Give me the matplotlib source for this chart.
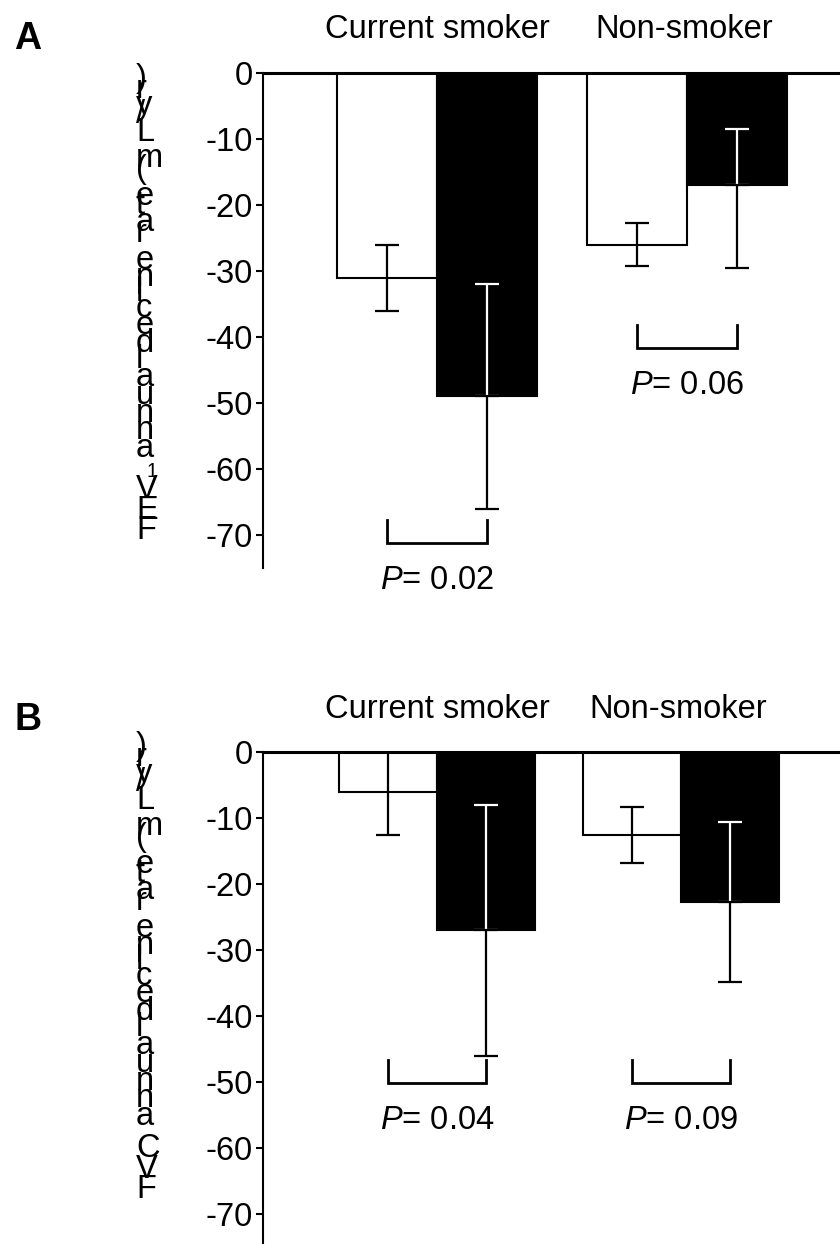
import matplotlib
matplotlib.use("Agg")
import matplotlib.pyplot as plt
import numpy as np
from matplotlib import font_manager
from matplotlib.ft2font import FT2Font

plt.rcParams['font.family'] = ['Liberation Sans', 'DejaVu Sans']
plt.rcParams['axes.unicode_minus'] = False
plt.rcParams['mathtext.fontset'] = 'custom'
plt.rcParams['mathtext.it'] = 'Liberation Sans:italic'
plt.rcParams['mathtext.rm'] = 'Liberation Sans'

groups = ['Current smoker', 'Non-smoker']

# Panel A: FEV1 annual decline (mL/yr), white = first bar, black = second bar
fev1_white = [-31, -26]
fev1_white_err = [5, 3.3]
fev1_black = [-49, -17]
fev1_black_err_low = [17, 12.5]
fev1_black_err_up = [17, 8.5]
fev1_p = ['0.02', '0.06']
fev1_bracket = [-71.2, -41.7]

# Panel B: FVC annual decline (mL/yr)
fvc_white = [-6, -12.6]
fvc_white_err = [6.5, 4.2]
fvc_black = [-27, -22.7]
fvc_black_err_low = [19, 12.1]
fvc_black_err_up = [19, 12.1]
fvc_p = ['0.04', '0.09']
fvc_bracket = [-50.2, -50.2]

yticks = [0, -10, -20, -30, -40, -50, -60, -70]

# y labels: (text, is_subscript)
fev1_label = [('FEV', False), ('1', True), (' annual decline rate (mL/yr)', False)]
fvc_label = [('FVC annual decline rate (mL/yr)', False)]

W, H = 840, 1244
FS = 23.5

fig = plt.figure(figsize=(W / 100, H / 100), dpi=100)

fpath = font_manager.findfont(font_manager.FontProperties(family='Liberation Sans'))
ft = FT2Font(fpath)


def advance_px(ch, size):
    ft.set_size(size, 72)
    g = ft.load_char(ord(ch))
    return g.linearHoriAdvance / 65536 * 100 / 72


def stacked_label(parts, x_px, base_px):
    # characters laid along a vertical line but drawn upright
    y = H - base_px
    for text, sub in parts:
        size = FS * 0.6 if sub else FS
        dx = 10 if sub else 0
        for ch in text:
            fig.text((x_px + dx) / W, y / H, ch, fontsize=size,
                     ha='left', va='baseline')
            y += advance_px(ch, size) * 0.98


def panel(ax, white, white_err, black, black_low, black_up, pvals, brackets, xlim):
    x = np.arange(len(groups))
    w = 0.4
    xw = x - w / 2
    xb = x + w / 2
    ax.bar(xw, white, w, color='white', edgecolor='black', lw=1.5, zorder=2)
    ax.bar(xb, black, w, color='black', edgecolor='black', lw=1.5, zorder=2)
    eb = dict(fmt='none', elinewidth=1.6, capsize=8.5, capthick=1.6)
    ax.errorbar(xw, white, yerr=white_err, ecolor='black', zorder=3, **eb)
    zeros = [0] * len(black)
    ax.errorbar(xb, black, yerr=[zeros, black_up], ecolor='white', zorder=3, **eb)
    ax.errorbar(xb, black, yerr=[black_low, zeros], ecolor='black', zorder=4, **eb)

    for i in range(len(groups)):
        b = brackets[i]
        ax.plot([xw[i], xw[i], xb[i], xb[i]], [b + 3.5, b, b, b + 3.5],
                color='black', lw=2, clip_on=False, solid_joinstyle='miter')
        ax.text(x[i], b - 5.7, f'$P$= {pvals[i]}', ha='center', va='center',
                fontsize=FS, clip_on=False)
        ax.annotate(groups[i], xy=(x[i], 0), xytext=(-3 * i, 43),
                    textcoords='offset pixels', ha='center', va='center',
                    fontsize=FS, annotation_clip=False)

    ax.set_xlim(*xlim)
    ax.set_ylim(-75, 0)
    ax.set_xticks([])
    ax.set_yticks(yticks)
    ax.set_yticklabels([str(t) for t in yticks])
    ax.tick_params(axis='y', direction='out', length=5, width=1.5,
                   labelsize=FS, pad=2.5)
    ax.spines['right'].set_visible(False)
    ax.spines['bottom'].set_visible(False)
    ax.spines['left'].set_linewidth(1.5)
    ax.spines['top'].set_linewidth(2.2)
    ax.set_facecolor('none')


axA = fig.add_axes([263 / W, (H - 568) / H, 1 - 263 / W, 495 / H])
panel(axA, fev1_white, fev1_white_err, fev1_black, fev1_black_err_low,
      fev1_black_err_up, fev1_p, fev1_bracket, (-0.696, 1.612))

axB = fig.add_axes([263 / W, (H - 1247) / H, 1 - 263 / W, 495 / H])
panel(axB, fvc_white, fvc_white_err, fvc_black, fvc_black_err_low,
      fvc_black_err_up, fvc_p, fvc_bracket, (-0.713, 1.652))

stacked_label(fev1_label, 136, 539)
stacked_label(fvc_label, 136, 1198)

fig.text(28 / W, 1 - 39 / H, 'A', fontsize=27, fontweight='bold', ha='center', va='center')
fig.text(28 / W, 1 - 720 / H, 'B', fontsize=27, fontweight='bold', ha='center', va='center')

fig.savefig('out.png', dpi=100)
